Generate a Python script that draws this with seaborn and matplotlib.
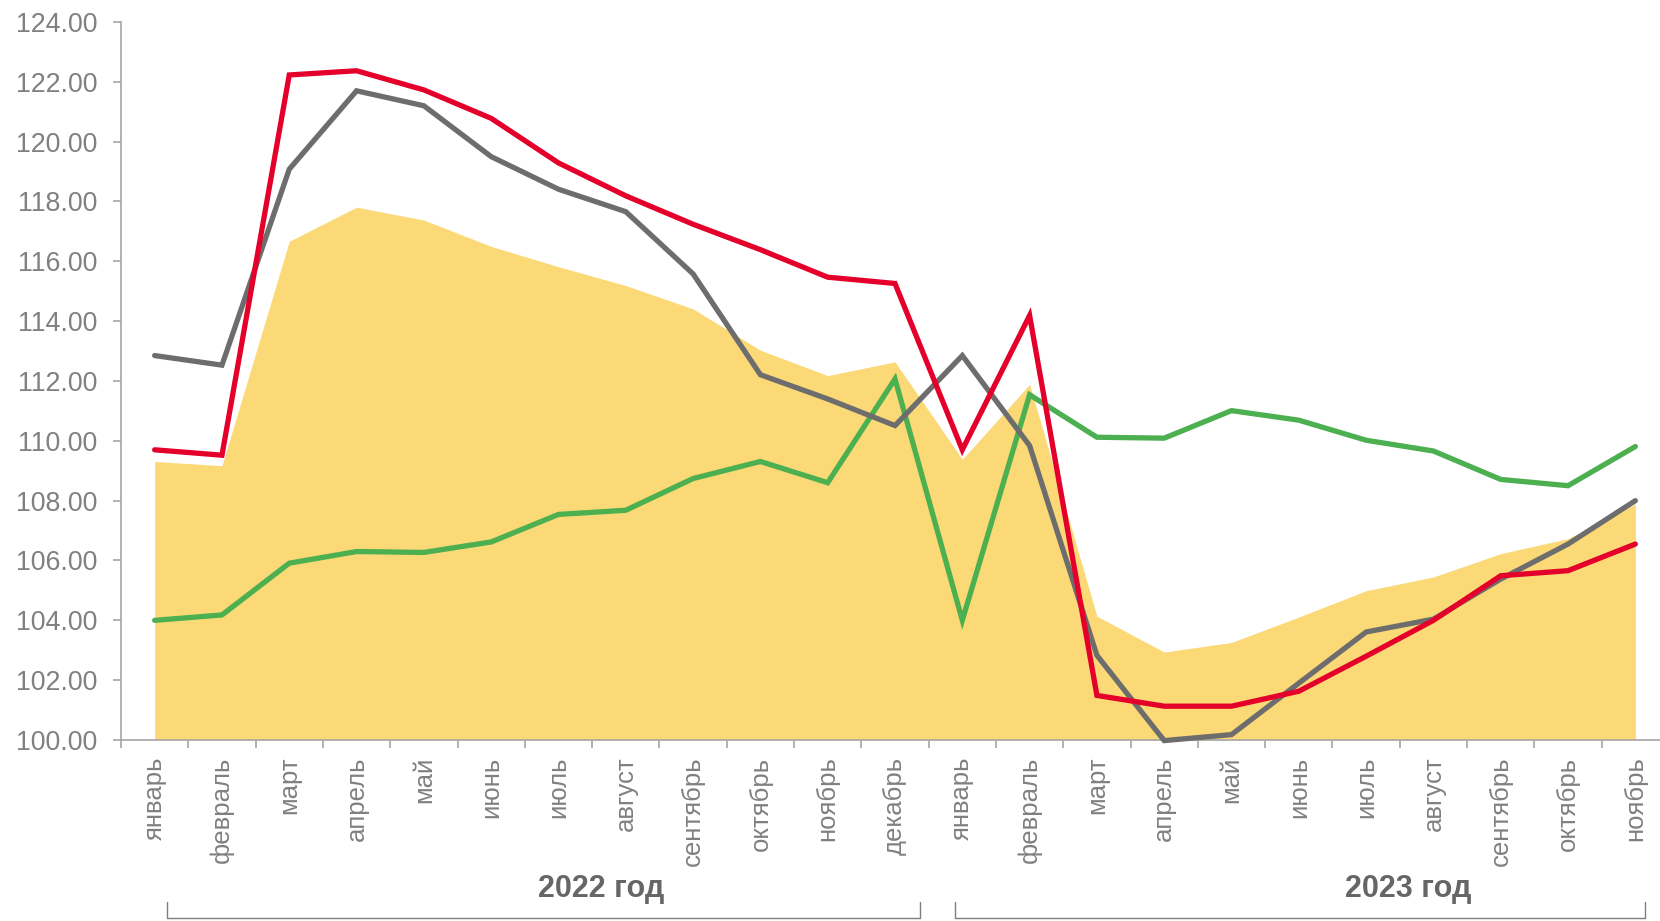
import numpy as np
import pandas as pd
import matplotlib
matplotlib.use("Agg")
import matplotlib.pyplot as plt
import matplotlib.transforms as mtransforms
import seaborn as sns

months = ["январь", "февраль", "март", "апрель", "май", "июнь", "июль", "август",
          "сентябрь", "октябрь", "ноябрь", "декабрь",
          "январь", "февраль", "март", "апрель", "май", "июнь", "июль", "август",
          "сентябрь", "октябрь", "ноябрь"]
year_labels = ["2022 год", "2023 год"]

area_vals = [109.31, 109.17, 116.67, 117.81, 117.38, 116.50, 115.82, 115.19, 114.41,
             113.03, 112.18, 112.64, 109.38, 111.89, 104.14, 102.94, 103.26, 104.11,
             104.99, 105.45, 106.23, 106.73, 107.89]
red_vals = [109.70, 109.52, 122.23, 122.37, 121.73, 120.78, 119.29, 118.19, 117.24,
            116.39, 115.47, 115.26, 109.70, 114.19, 101.49, 101.13, 101.13, 101.63,
            102.80, 104.00, 105.49, 105.66, 106.55]
gray_vals = [112.85, 112.53, 119.08, 121.70, 121.20, 119.50, 118.41, 117.66, 115.58,
             112.21, 111.40, 110.51, 112.85, 109.84, 102.83, 99.98, 100.18, 101.90,
             103.61, 104.04, 105.38, 106.55, 108.00]
green_vals = [104.00, 104.18, 105.91, 106.30, 106.27, 106.62, 107.54, 107.68, 108.74,
              109.31, 108.60, 112.07, 104.00, 111.54, 110.12, 110.09, 111.01, 110.69,
              110.02, 109.66, 108.71, 108.50, 109.81]
y_ticks = [100, 102, 104, 106, 108, 110, 112, 114, 116, 118, 120, 122, 124]

sns.set_style("white")
plt.rcParams['font.family'] = ['Liberation Sans', 'DejaVu Sans']

TXT = "#808080"
AX = "#A6A6A6"

fig = plt.figure(figsize=(16.6, 9.21), dpi=100)
ax = fig.add_axes([121 / 1660, 181 / 921, 1548 / 1660, 718 / 921])

x = np.arange(len(months))
ax.fill_between(x, 100, area_vals, color="#FBD977", linewidth=0, zorder=1)

df = pd.DataFrame({
    "x": np.concatenate([x, x, x]),
    "y": np.concatenate([green_vals, gray_vals, red_vals]),
    "s": ["green"] * len(x) + ["gray"] * len(x) + ["red"] * len(x),
})
sns.lineplot(data=df, x="x", y="y", hue="s", sort=False, estimator=None,
             palette={"green": "#4CAF50", "gray": "#6D6D6D", "red": "#E4002B"},
             linewidth=3.8, legend=False, ax=ax, zorder=3)
for ln in ax.lines:
    ln.set_clip_on(False)
    ln.set_solid_joinstyle("miter")

ax.set_xlim(-0.5, len(months) - 0.5)
ax.set_ylim(100, 124)
ax.set_yticks(y_ticks)
ax.set_yticklabels([f"{v:.2f}" for v in y_ticks])
ax.set_xticks(np.arange(len(months) + 1) - 0.5)
ax.set_xticklabels([])
ax.set_xticks(x, minor=True)
ax.set_xticklabels(months, minor=True, rotation=90, va="top", ha="center")
ax.tick_params(axis="x", which="major", length=6, width=1.2, color=AX, direction="out", bottom=True)
ax.tick_params(axis="x", which="minor", length=0, pad=12, labelsize=18.5, labelcolor=TXT)
ax.tick_params(axis="y", length=6, width=1.2, color=AX, direction="out", left=True,
               pad=11, labelsize=19.3, labelcolor=TXT)
ax.set_xlabel("")
ax.set_ylabel("")
for s in ["top", "right"]:
    ax.spines[s].set_visible(False)
for s in ["left", "bottom"]:
    ax.spines[s].set_color(AX)
    ax.spines[s].set_linewidth(1.2)

trans = mtransforms.blended_transform_factory(ax.transData, fig.transFigure)
yt = 1 - 889 / 921
ax.text(6.63, yt, year_labels[0], transform=trans, ha="center", va="center",
        fontsize=22, fontweight="bold", color="#666666")
ax.text(18.63, yt, year_labels[1], transform=trans, ha="center", va="center",
        fontsize=22, fontweight="bold", color="#666666", fontstretch="condensed")

yb = 1 - 918 / 921
ytop = 1 - 902 / 921
for (a, b) in [(0.18, 11.37), (11.89, 22.15)]:
    ax.plot([a, a, b, b], [ytop, yb, yb, ytop], transform=trans, color="#7F7F7F",
            linewidth=1.0, clip_on=False)

fig.savefig("out.png", dpi=100)
